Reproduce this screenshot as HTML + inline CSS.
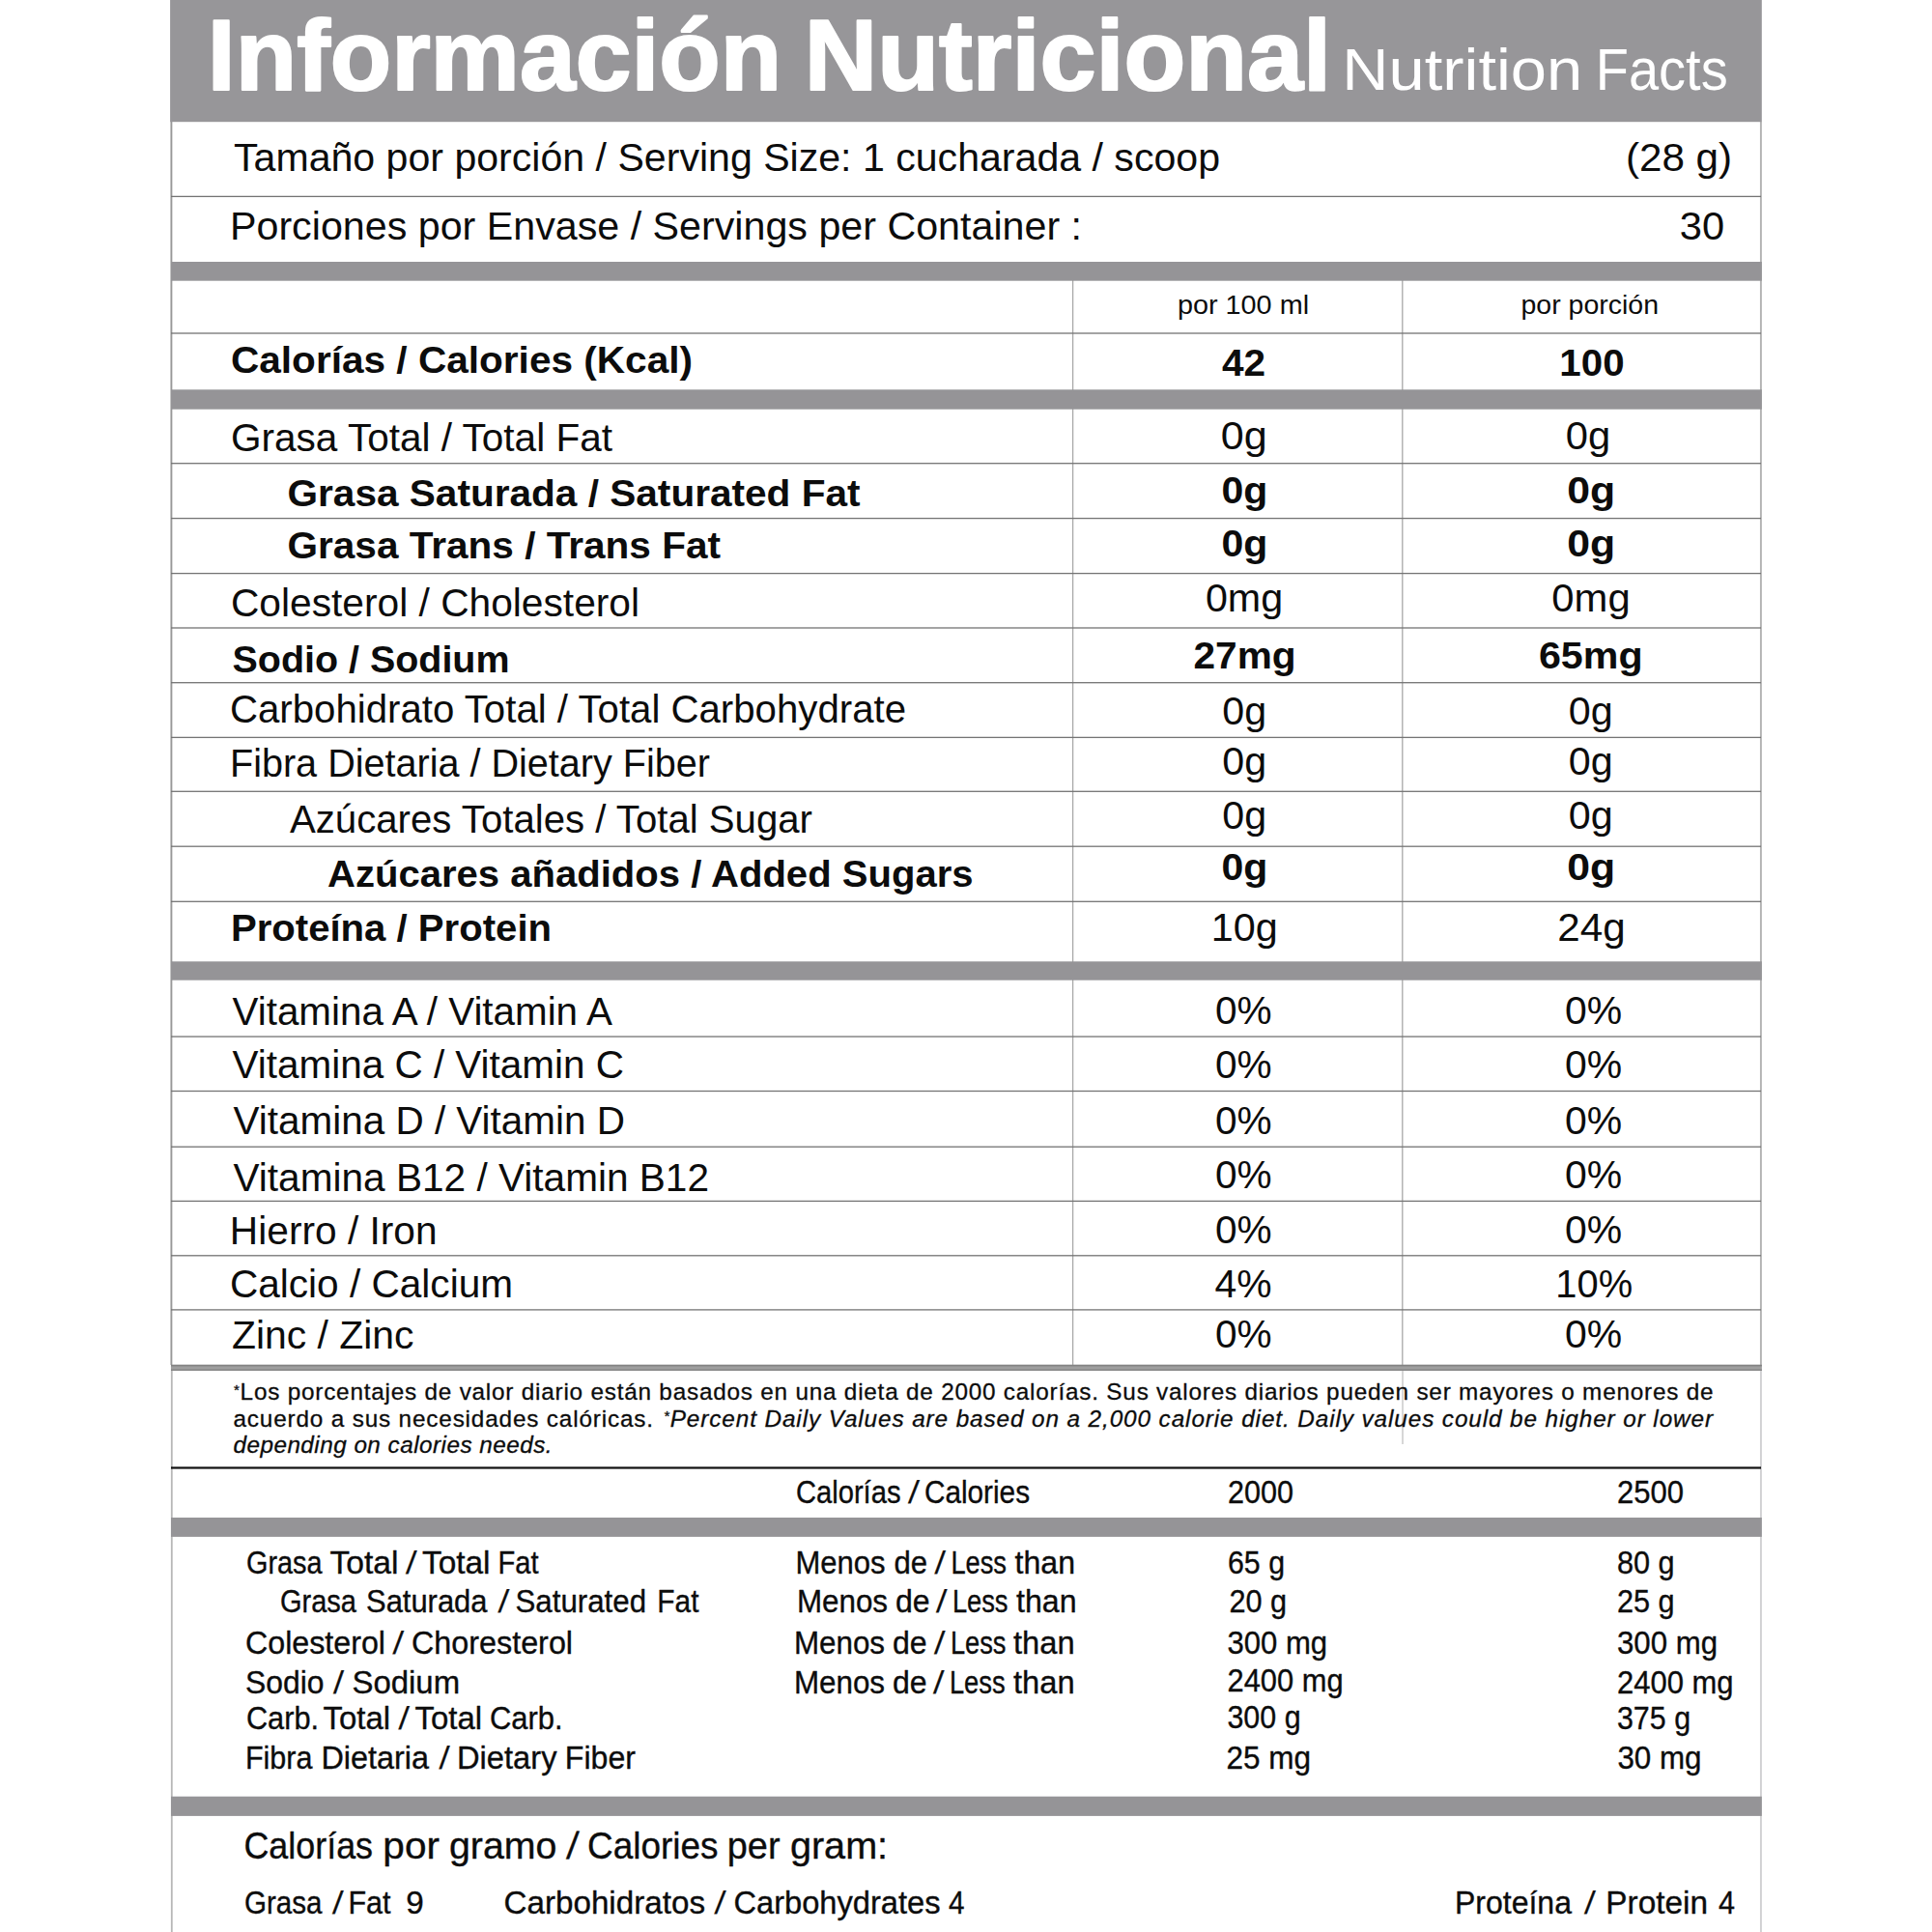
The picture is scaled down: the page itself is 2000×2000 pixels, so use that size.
<!DOCTYPE html>
<html lang="es">
<head>
<meta charset="utf-8">
<title>Información Nutricional / Nutrition Facts</title>
<style>
html,body{margin:0;padding:0;background:#fff;}
body{width:2000px;height:2000px;overflow:hidden;}
svg{display:block;}
text{font-family:"Liberation Sans",sans-serif;}
</style>
</head>
<body>
<svg width="2000" height="2000" viewBox="0 0 2000 2000">
<rect x="0" y="0" width="2000" height="2000" fill="#fff"/>
<g shape-rendering="auto">
<rect x="176.45" y="126.00" width="1.90" height="1287.00" fill="#989898"/>
<rect x="176.90" y="1413.00" width="1.80" height="587.00" fill="#b8b8b8"/>
<rect x="1821.95" y="126.00" width="1.90" height="1287.00" fill="#b2b2b2"/>
<rect x="1821.95" y="1413.00" width="1.90" height="587.00" fill="#d0d0d2"/>
<rect x="1109.95" y="290.00" width="1.30" height="1123.00" fill="#a8a8a8"/>
<rect x="1451.15" y="290.00" width="1.30" height="1123.00" fill="#a8a8a8"/>
<rect x="1451.40" y="1419.00" width="1.20" height="76.00" fill="#bdbdbd"/>
<rect x="176.10" y="0.00" width="1647.70" height="126.20" fill="#979699"/>
<rect x="177.00" y="202.75" width="1646.00" height="1.30" fill="#747474"/>
<rect x="177.00" y="271.00" width="1646.80" height="19.70" fill="#959497"/>
<rect x="177.00" y="344.35" width="1646.00" height="1.30" fill="#747474"/>
<rect x="177.00" y="403.30" width="1646.80" height="20.40" fill="#959497"/>
<rect x="177.00" y="479.05" width="1646.00" height="1.30" fill="#747474"/>
<rect x="177.00" y="535.95" width="1646.00" height="1.30" fill="#747474"/>
<rect x="177.00" y="592.95" width="1646.00" height="1.30" fill="#747474"/>
<rect x="177.00" y="649.35" width="1646.00" height="1.30" fill="#747474"/>
<rect x="177.00" y="706.05" width="1646.00" height="1.30" fill="#747474"/>
<rect x="177.00" y="762.75" width="1646.00" height="1.30" fill="#747474"/>
<rect x="177.00" y="818.65" width="1646.00" height="1.30" fill="#747474"/>
<rect x="177.00" y="875.55" width="1646.00" height="1.30" fill="#747474"/>
<rect x="177.00" y="932.65" width="1646.00" height="1.30" fill="#747474"/>
<rect x="177.00" y="995.30" width="1646.80" height="19.40" fill="#959497"/>
<rect x="177.00" y="1072.45" width="1646.00" height="1.30" fill="#747474"/>
<rect x="177.00" y="1128.85" width="1646.00" height="1.30" fill="#747474"/>
<rect x="177.00" y="1186.55" width="1646.00" height="1.30" fill="#747474"/>
<rect x="177.00" y="1242.75" width="1646.00" height="1.30" fill="#747474"/>
<rect x="177.00" y="1299.15" width="1646.00" height="1.30" fill="#747474"/>
<rect x="177.00" y="1355.25" width="1646.00" height="1.30" fill="#747474"/>
<rect x="177.00" y="1412.80" width="1646.80" height="6.20" fill="#9e9e9e"/>
<rect x="177.00" y="1412.80" width="1646.80" height="1.60" fill="#828282"/>
<rect x="177.00" y="1417.50" width="1646.80" height="1.50" fill="#868686"/>
<rect x="177.00" y="1518.40" width="1646.00" height="2.20" fill="#111"/>
<rect x="177.00" y="1571.00" width="1646.80" height="19.90" fill="#959497"/>
<rect x="177.00" y="1859.70" width="1646.80" height="20.20" fill="#959497"/>
</g>
<g>
<text x="214.87" y="93.0" font-size="104" textLength="594.23" lengthAdjust="spacingAndGlyphs" fill="#fff" stroke="#fff" stroke-width="2.2" stroke-linejoin="round" font-weight="bold">Información</text>
<text x="832.89" y="93.0" font-size="104" textLength="545.24" lengthAdjust="spacingAndGlyphs" fill="#fff" stroke="#fff" stroke-width="2.2" stroke-linejoin="round" font-weight="bold">Nutricional</text>
<text x="1389.31" y="93.0" font-size="62" textLength="248.87" lengthAdjust="spacingAndGlyphs" fill="#fff">Nutrition</text>
<text x="1651.76" y="93.0" font-size="62" textLength="136.88" lengthAdjust="spacingAndGlyphs" fill="#fff">Facts</text>
<text x="242.00" y="176.8" font-size="40.5" textLength="1021.01" lengthAdjust="spacingAndGlyphs" fill="#0c0c0c">Tamaño por porción / Serving Size: 1 cucharada / scoop</text>
<text x="1682.90" y="176.8" font-size="40.5" textLength="110.25" lengthAdjust="spacingAndGlyphs" fill="#0c0c0c">(28 g)</text>
<text x="237.97" y="247.6" font-size="40.5" textLength="882.07" lengthAdjust="spacingAndGlyphs" fill="#0c0c0c">Porciones por Envase / Servings per Container :</text>
<text x="1738.82" y="247.6" font-size="40.5" textLength="46.33" lengthAdjust="spacingAndGlyphs" fill="#0c0c0c">30</text>
<text x="1218.93" y="324.8" font-size="27.5" textLength="136.13" lengthAdjust="spacingAndGlyphs" fill="#0c0c0c">por 100 ml</text>
<text x="1574.47" y="324.8" font-size="27.5" textLength="142.58" lengthAdjust="spacingAndGlyphs" fill="#0c0c0c">por porción</text>
<text x="238.99" y="385.6" font-size="39.5" textLength="478.02" lengthAdjust="spacingAndGlyphs" fill="#0c0c0c" font-weight="bold">Calorías / Calories (Kcal)</text>
<text x="1264.98" y="388.7" font-size="38.5" textLength="45.11" lengthAdjust="spacingAndGlyphs" fill="#0c0c0c" font-weight="bold">42</text>
<text x="1614.33" y="388.7" font-size="38.5" textLength="67.28" lengthAdjust="spacingAndGlyphs" fill="#0c0c0c" font-weight="bold">100</text>
<text x="238.99" y="467.2" font-size="40.5" textLength="395.01" lengthAdjust="spacingAndGlyphs" fill="#0c0c0c">Grasa Total / Total Fat</text>
<text x="1263.82" y="465.1" font-size="40.5" textLength="47.98" lengthAdjust="spacingAndGlyphs" fill="#0c0c0c">0g</text>
<text x="1620.86" y="465.1" font-size="40.5" textLength="46.42" lengthAdjust="spacingAndGlyphs" fill="#0c0c0c">0g</text>
<text x="297.50" y="523.7" font-size="39.5" textLength="593.00" lengthAdjust="spacingAndGlyphs" fill="#0c0c0c" font-weight="bold">Grasa Saturada / Saturated Fat</text>
<text x="1264.40" y="521.1" font-size="39.5" textLength="47.87" lengthAdjust="spacingAndGlyphs" fill="#0c0c0c" font-weight="bold">0g</text>
<text x="1622.28" y="521.1" font-size="39.5" textLength="49.95" lengthAdjust="spacingAndGlyphs" fill="#0c0c0c" font-weight="bold">0g</text>
<text x="297.49" y="578.0" font-size="39.5" textLength="448.52" lengthAdjust="spacingAndGlyphs" fill="#0c0c0c" font-weight="bold">Grasa Trans / Trans Fat</text>
<text x="1264.40" y="575.5" font-size="39.5" textLength="47.87" lengthAdjust="spacingAndGlyphs" fill="#0c0c0c" font-weight="bold">0g</text>
<text x="1622.28" y="575.5" font-size="39.5" textLength="49.95" lengthAdjust="spacingAndGlyphs" fill="#0c0c0c" font-weight="bold">0g</text>
<text x="238.97" y="638.0" font-size="40.5" textLength="423.06" lengthAdjust="spacingAndGlyphs" fill="#0c0c0c">Colesterol / Cholesterol</text>
<text x="1247.92" y="632.8" font-size="40.5" textLength="80.24" lengthAdjust="spacingAndGlyphs" fill="#0c0c0c">0mg</text>
<text x="1606.38" y="632.8" font-size="40.5" textLength="81.30" lengthAdjust="spacingAndGlyphs" fill="#0c0c0c">0mg</text>
<text x="240.49" y="695.8" font-size="39.5" textLength="287.05" lengthAdjust="spacingAndGlyphs" fill="#0c0c0c" font-weight="bold">Sodio / Sodium</text>
<text x="1235.44" y="692.4" font-size="39.5" textLength="106.13" lengthAdjust="spacingAndGlyphs" fill="#0c0c0c" font-weight="bold">27mg</text>
<text x="1592.94" y="692.4" font-size="39.5" textLength="107.64" lengthAdjust="spacingAndGlyphs" fill="#0c0c0c" font-weight="bold">65mg</text>
<text x="237.99" y="748.4" font-size="40.5" textLength="700.03" lengthAdjust="spacingAndGlyphs" fill="#0c0c0c">Carbohidrato Total / Total Carbohydrate</text>
<text x="1265.39" y="749.7" font-size="40.5" textLength="45.87" lengthAdjust="spacingAndGlyphs" fill="#0c0c0c">0g</text>
<text x="1623.84" y="749.7" font-size="40.5" textLength="45.89" lengthAdjust="spacingAndGlyphs" fill="#0c0c0c">0g</text>
<text x="237.97" y="804.1" font-size="40.5" textLength="497.04" lengthAdjust="spacingAndGlyphs" fill="#0c0c0c">Fibra Dietaria / Dietary Fiber</text>
<text x="1265.39" y="801.9" font-size="40.5" textLength="45.87" lengthAdjust="spacingAndGlyphs" fill="#0c0c0c">0g</text>
<text x="1623.84" y="801.9" font-size="40.5" textLength="45.89" lengthAdjust="spacingAndGlyphs" fill="#0c0c0c">0g</text>
<text x="300.00" y="861.8" font-size="40.5" textLength="541.00" lengthAdjust="spacingAndGlyphs" fill="#0c0c0c">Azúcares Totales / Total Sugar</text>
<text x="1265.39" y="857.7" font-size="40.5" textLength="45.87" lengthAdjust="spacingAndGlyphs" fill="#0c0c0c">0g</text>
<text x="1623.84" y="857.7" font-size="40.5" textLength="45.89" lengthAdjust="spacingAndGlyphs" fill="#0c0c0c">0g</text>
<text x="339.00" y="917.8" font-size="39.5" textLength="668.52" lengthAdjust="spacingAndGlyphs" fill="#0c0c0c" font-weight="bold">Azúcares añadidos / Added Sugars</text>
<text x="1264.40" y="910.8" font-size="39.5" textLength="47.87" lengthAdjust="spacingAndGlyphs" fill="#0c0c0c" font-weight="bold">0g</text>
<text x="1622.28" y="910.8" font-size="39.5" textLength="49.95" lengthAdjust="spacingAndGlyphs" fill="#0c0c0c" font-weight="bold">0g</text>
<text x="238.94" y="974.2" font-size="39.5" textLength="332.10" lengthAdjust="spacingAndGlyphs" fill="#0c0c0c" font-weight="bold">Proteína / Protein</text>
<text x="1253.72" y="974.1" font-size="40.5" textLength="68.98" lengthAdjust="spacingAndGlyphs" fill="#0c0c0c">10g</text>
<text x="1612.35" y="974.1" font-size="40.5" textLength="70.34" lengthAdjust="spacingAndGlyphs" fill="#0c0c0c">24g</text>
<text x="240.50" y="1061.3" font-size="40.5" textLength="393.50" lengthAdjust="spacingAndGlyphs" fill="#0c0c0c">Vitamina A / Vitamin A</text>
<text x="1257.93" y="1060.0" font-size="40.5" textLength="58.65" lengthAdjust="spacingAndGlyphs" fill="#0c0c0c">0%</text>
<text x="1619.90" y="1060.0" font-size="40.5" textLength="59.20" lengthAdjust="spacingAndGlyphs" fill="#0c0c0c">0%</text>
<text x="240.50" y="1115.7" font-size="40.5" textLength="405.52" lengthAdjust="spacingAndGlyphs" fill="#0c0c0c">Vitamina C / Vitamin C</text>
<text x="1257.93" y="1116.4" font-size="40.5" textLength="58.65" lengthAdjust="spacingAndGlyphs" fill="#0c0c0c">0%</text>
<text x="1619.90" y="1116.4" font-size="40.5" textLength="59.20" lengthAdjust="spacingAndGlyphs" fill="#0c0c0c">0%</text>
<text x="241.50" y="1173.9" font-size="40.5" textLength="405.51" lengthAdjust="spacingAndGlyphs" fill="#0c0c0c">Vitamina D / Vitamin D</text>
<text x="1257.93" y="1173.9" font-size="40.5" textLength="58.65" lengthAdjust="spacingAndGlyphs" fill="#0c0c0c">0%</text>
<text x="1619.90" y="1173.9" font-size="40.5" textLength="59.20" lengthAdjust="spacingAndGlyphs" fill="#0c0c0c">0%</text>
<text x="241.50" y="1232.9" font-size="40.5" textLength="492.51" lengthAdjust="spacingAndGlyphs" fill="#0c0c0c">Vitamina B12 / Vitamin B12</text>
<text x="1257.93" y="1229.5" font-size="40.5" textLength="58.65" lengthAdjust="spacingAndGlyphs" fill="#0c0c0c">0%</text>
<text x="1619.90" y="1229.5" font-size="40.5" textLength="59.20" lengthAdjust="spacingAndGlyphs" fill="#0c0c0c">0%</text>
<text x="237.89" y="1288.3" font-size="40.5" textLength="214.70" lengthAdjust="spacingAndGlyphs" fill="#0c0c0c">Hierro / Iron</text>
<text x="1257.93" y="1286.5" font-size="40.5" textLength="58.65" lengthAdjust="spacingAndGlyphs" fill="#0c0c0c">0%</text>
<text x="1619.90" y="1286.5" font-size="40.5" textLength="59.20" lengthAdjust="spacingAndGlyphs" fill="#0c0c0c">0%</text>
<text x="237.96" y="1343.1" font-size="40.5" textLength="293.07" lengthAdjust="spacingAndGlyphs" fill="#0c0c0c">Calcio / Calcium</text>
<text x="1257.46" y="1343.4" font-size="40.5" textLength="59.08" lengthAdjust="spacingAndGlyphs" fill="#0c0c0c">4%</text>
<text x="1610.36" y="1343.4" font-size="40.5" textLength="79.77" lengthAdjust="spacingAndGlyphs" fill="#0c0c0c">10%</text>
<text x="239.98" y="1395.6" font-size="40.5" textLength="188.54" lengthAdjust="spacingAndGlyphs" fill="#0c0c0c">Zinc / Zinc</text>
<text x="1257.93" y="1394.9" font-size="40.5" textLength="58.65" lengthAdjust="spacingAndGlyphs" fill="#0c0c0c">0%</text>
<text x="1619.90" y="1394.9" font-size="40.5" textLength="59.20" lengthAdjust="spacingAndGlyphs" fill="#0c0c0c">0%</text>
<text x="242.00" y="1449.2" font-size="24.3" textLength="1531.50" lengthAdjust="spacing" fill="#0c0c0c" stroke="#0c0c0c" stroke-width="0.3" stroke-linejoin="round"><tspan font-size="15" dy="-5.5">*</tspan><tspan dy="5.5">Los porcentajes de valor diario están basados en una dieta de 2000 calorías. Sus valores diarios pueden ser mayores o menores de</tspan></text>
<text x="241.49" y="1476.7" font-size="24.3" textLength="434.51" lengthAdjust="spacing" fill="#0c0c0c" stroke="#0c0c0c" stroke-width="0.3" stroke-linejoin="round">acuerdo a sus necesidades calóricas.</text>
<text x="687.00" y="1476.7" font-size="24.3" textLength="1086.00" lengthAdjust="spacing" fill="#0c0c0c" stroke="#0c0c0c" stroke-width="0.3" stroke-linejoin="round" font-style="italic"><tspan font-size="15" dy="-5.5">*</tspan><tspan dy="5.5">Percent Daily Values are based on a 2,000 calorie diet. Daily values could be higher or lower</tspan></text>
<text x="241.49" y="1504.3" font-size="24.3" textLength="330.04" lengthAdjust="spacing" fill="#0c0c0c" stroke="#0c0c0c" stroke-width="0.3" stroke-linejoin="round" font-style="italic">depending on calories needs.</text>
<text x="823.97" y="1556.2" font-size="33" textLength="108.55" lengthAdjust="spacingAndGlyphs" fill="#0c0c0c" stroke="#0c0c0c" stroke-width="0.35" stroke-linejoin="round">Calorías</text>
<text transform="translate(940.00,1556.2) skewX(-6.78)" font-size="33" fill="#0c0c0c" stroke="#0c0c0c" stroke-width="0.35" stroke-linejoin="round">/</text>
<text x="956.95" y="1556.2" font-size="33" textLength="109.06" lengthAdjust="spacingAndGlyphs" fill="#0c0c0c" stroke="#0c0c0c" stroke-width="0.35" stroke-linejoin="round">Calories</text>
<text x="1270.96" y="1556.2" font-size="33" textLength="68.06" lengthAdjust="spacingAndGlyphs" fill="#0c0c0c" stroke="#0c0c0c" stroke-width="0.35" stroke-linejoin="round">2000</text>
<text x="1673.95" y="1556.2" font-size="33" textLength="69.08" lengthAdjust="spacingAndGlyphs" fill="#0c0c0c" stroke="#0c0c0c" stroke-width="0.35" stroke-linejoin="round">2500</text>
<text x="254.98" y="1628.7" font-size="33" textLength="78.51" lengthAdjust="spacingAndGlyphs" fill="#0c0c0c" stroke="#0c0c0c" stroke-width="0.35" stroke-linejoin="round">Grasa</text>
<text x="341.49" y="1628.7" font-size="33" textLength="71.09" lengthAdjust="spacingAndGlyphs" fill="#0c0c0c" stroke="#0c0c0c" stroke-width="0.35" stroke-linejoin="round">Total</text>
<text transform="translate(420.00,1628.7) skewX(-5.85)" font-size="33" fill="#0c0c0c" stroke="#0c0c0c" stroke-width="0.35" stroke-linejoin="round">/</text>
<text x="436.96" y="1628.7" font-size="33" textLength="70.60" lengthAdjust="spacingAndGlyphs" fill="#0c0c0c" stroke="#0c0c0c" stroke-width="0.35" stroke-linejoin="round">Total</text>
<text x="515.42" y="1628.7" font-size="33" textLength="42.07" lengthAdjust="spacingAndGlyphs" fill="#0c0c0c" stroke="#0c0c0c" stroke-width="0.35" stroke-linejoin="round">Fat</text>
<text x="823.45" y="1628.7" font-size="33" textLength="93.08" lengthAdjust="spacingAndGlyphs" fill="#0c0c0c" stroke="#0c0c0c" stroke-width="0.35" stroke-linejoin="round">Menos</text>
<text x="925.47" y="1628.7" font-size="33" textLength="34.62" lengthAdjust="spacingAndGlyphs" fill="#0c0c0c" stroke="#0c0c0c" stroke-width="0.35" stroke-linejoin="round">de</text>
<text transform="translate(967.50,1628.7) skewX(-5.38)" font-size="33" fill="#0c0c0c" stroke="#0c0c0c" stroke-width="0.35" stroke-linejoin="round">/</text>
<text x="984.40" y="1628.7" font-size="33" textLength="57.62" lengthAdjust="spacingAndGlyphs" fill="#0c0c0c" stroke="#0c0c0c" stroke-width="0.35" stroke-linejoin="round">Less</text>
<text x="1050.47" y="1628.7" font-size="33" textLength="62.57" lengthAdjust="spacingAndGlyphs" fill="#0c0c0c" stroke="#0c0c0c" stroke-width="0.35" stroke-linejoin="round">than</text>
<text x="1270.96" y="1628.7" font-size="33" textLength="59.12" lengthAdjust="spacingAndGlyphs" fill="#0c0c0c" stroke="#0c0c0c" stroke-width="0.35" stroke-linejoin="round">65 g</text>
<text x="1673.93" y="1628.7" font-size="33" textLength="59.66" lengthAdjust="spacingAndGlyphs" fill="#0c0c0c" stroke="#0c0c0c" stroke-width="0.35" stroke-linejoin="round">80 g</text>
<text x="289.97" y="1668.8" font-size="33" textLength="79.03" lengthAdjust="spacingAndGlyphs" fill="#0c0c0c" stroke="#0c0c0c" stroke-width="0.35" stroke-linejoin="round">Grasa</text>
<text x="379.00" y="1668.8" font-size="33" textLength="125.51" lengthAdjust="spacingAndGlyphs" fill="#0c0c0c" stroke="#0c0c0c" stroke-width="0.35" stroke-linejoin="round">Saturada</text>
<text transform="translate(515.50,1668.8) skewX(-6.31)" font-size="33" fill="#0c0c0c" stroke="#0c0c0c" stroke-width="0.35" stroke-linejoin="round">/</text>
<text x="533.48" y="1668.8" font-size="33" textLength="135.56" lengthAdjust="spacingAndGlyphs" fill="#0c0c0c" stroke="#0c0c0c" stroke-width="0.35" stroke-linejoin="round">Saturated</text>
<text x="680.36" y="1668.8" font-size="33" textLength="43.12" lengthAdjust="spacingAndGlyphs" fill="#0c0c0c" stroke="#0c0c0c" stroke-width="0.35" stroke-linejoin="round">Fat</text>
<text x="824.93" y="1668.8" font-size="33" textLength="94.11" lengthAdjust="spacingAndGlyphs" fill="#0c0c0c" stroke="#0c0c0c" stroke-width="0.35" stroke-linejoin="round">Menos</text>
<text x="926.93" y="1668.8" font-size="33" textLength="35.67" lengthAdjust="spacingAndGlyphs" fill="#0c0c0c" stroke="#0c0c0c" stroke-width="0.35" stroke-linejoin="round">de</text>
<text transform="translate(969.00,1668.8) skewX(-5.38)" font-size="33" fill="#0c0c0c" stroke="#0c0c0c" stroke-width="0.35" stroke-linejoin="round">/</text>
<text x="985.89" y="1668.8" font-size="33" textLength="57.64" lengthAdjust="spacingAndGlyphs" fill="#0c0c0c" stroke="#0c0c0c" stroke-width="0.35" stroke-linejoin="round">Less</text>
<text x="1052.01" y="1668.8" font-size="33" textLength="62.55" lengthAdjust="spacingAndGlyphs" fill="#0c0c0c" stroke="#0c0c0c" stroke-width="0.35" stroke-linejoin="round">than</text>
<text x="1272.43" y="1668.8" font-size="33" textLength="59.71" lengthAdjust="spacingAndGlyphs" fill="#0c0c0c" stroke="#0c0c0c" stroke-width="0.35" stroke-linejoin="round">20 g</text>
<text x="1673.93" y="1668.8" font-size="33" textLength="59.66" lengthAdjust="spacingAndGlyphs" fill="#0c0c0c" stroke="#0c0c0c" stroke-width="0.35" stroke-linejoin="round">25 g</text>
<text x="253.97" y="1712.0" font-size="33" textLength="145.07" lengthAdjust="spacingAndGlyphs" fill="#0c0c0c" stroke="#0c0c0c" stroke-width="0.35" stroke-linejoin="round">Colesterol</text>
<text transform="translate(406.50,1712.0) skewX(-5.85)" font-size="33" fill="#0c0c0c" stroke="#0c0c0c" stroke-width="0.35" stroke-linejoin="round">/</text>
<text x="425.97" y="1712.0" font-size="33" textLength="167.07" lengthAdjust="spacingAndGlyphs" fill="#0c0c0c" stroke="#0c0c0c" stroke-width="0.35" stroke-linejoin="round">Choresterol</text>
<text x="821.89" y="1712.0" font-size="33" textLength="94.15" lengthAdjust="spacingAndGlyphs" fill="#0c0c0c" stroke="#0c0c0c" stroke-width="0.35" stroke-linejoin="round">Menos</text>
<text x="923.93" y="1712.0" font-size="33" textLength="35.70" lengthAdjust="spacingAndGlyphs" fill="#0c0c0c" stroke="#0c0c0c" stroke-width="0.35" stroke-linejoin="round">de</text>
<text transform="translate(967.00,1712.0) skewX(-5.38)" font-size="33" fill="#0c0c0c" stroke="#0c0c0c" stroke-width="0.35" stroke-linejoin="round">/</text>
<text x="983.90" y="1712.0" font-size="33" textLength="57.61" lengthAdjust="spacingAndGlyphs" fill="#0c0c0c" stroke="#0c0c0c" stroke-width="0.35" stroke-linejoin="round">Less</text>
<text x="1048.99" y="1712.0" font-size="33" textLength="63.59" lengthAdjust="spacingAndGlyphs" fill="#0c0c0c" stroke="#0c0c0c" stroke-width="0.35" stroke-linejoin="round">than</text>
<text x="1270.48" y="1712.0" font-size="33" textLength="103.59" lengthAdjust="spacingAndGlyphs" fill="#0c0c0c" stroke="#0c0c0c" stroke-width="0.35" stroke-linejoin="round">300 mg</text>
<text x="1673.96" y="1712.0" font-size="33" textLength="104.10" lengthAdjust="spacingAndGlyphs" fill="#0c0c0c" stroke="#0c0c0c" stroke-width="0.35" stroke-linejoin="round">300 mg</text>
<text x="253.97" y="1752.9" font-size="33" textLength="81.56" lengthAdjust="spacingAndGlyphs" fill="#0c0c0c" stroke="#0c0c0c" stroke-width="0.35" stroke-linejoin="round">Sodio</text>
<text transform="translate(345.00,1752.9) skewX(-4.44)" font-size="33" fill="#0c0c0c" stroke="#0c0c0c" stroke-width="0.35" stroke-linejoin="round">/</text>
<text x="364.44" y="1752.9" font-size="33" textLength="111.62" lengthAdjust="spacingAndGlyphs" fill="#0c0c0c" stroke="#0c0c0c" stroke-width="0.35" stroke-linejoin="round">Sodium</text>
<text x="821.92" y="1752.9" font-size="33" textLength="94.11" lengthAdjust="spacingAndGlyphs" fill="#0c0c0c" stroke="#0c0c0c" stroke-width="0.35" stroke-linejoin="round">Menos</text>
<text x="923.92" y="1752.9" font-size="33" textLength="35.69" lengthAdjust="spacingAndGlyphs" fill="#0c0c0c" stroke="#0c0c0c" stroke-width="0.35" stroke-linejoin="round">de</text>
<text transform="translate(966.00,1752.9) skewX(-5.38)" font-size="33" fill="#0c0c0c" stroke="#0c0c0c" stroke-width="0.35" stroke-linejoin="round">/</text>
<text x="982.89" y="1752.9" font-size="33" textLength="57.66" lengthAdjust="spacingAndGlyphs" fill="#0c0c0c" stroke="#0c0c0c" stroke-width="0.35" stroke-linejoin="round">Less</text>
<text x="1048.97" y="1752.9" font-size="33" textLength="63.59" lengthAdjust="spacingAndGlyphs" fill="#0c0c0c" stroke="#0c0c0c" stroke-width="0.35" stroke-linejoin="round">than</text>
<text x="1270.49" y="1750.6" font-size="33" textLength="120.06" lengthAdjust="spacingAndGlyphs" fill="#0c0c0c" stroke="#0c0c0c" stroke-width="0.35" stroke-linejoin="round">2400 mg</text>
<text x="1673.97" y="1752.9" font-size="33" textLength="120.56" lengthAdjust="spacingAndGlyphs" fill="#0c0c0c" stroke="#0c0c0c" stroke-width="0.35" stroke-linejoin="round">2400 mg</text>
<text x="254.92" y="1789.9" font-size="33" textLength="75.19" lengthAdjust="spacingAndGlyphs" fill="#0c0c0c" stroke="#0c0c0c" stroke-width="0.35" stroke-linejoin="round">Carb.</text>
<text x="334.50" y="1789.9" font-size="33" textLength="69.58" lengthAdjust="spacingAndGlyphs" fill="#0c0c0c" stroke="#0c0c0c" stroke-width="0.35" stroke-linejoin="round">Total</text>
<text transform="translate(412.50,1789.9) skewX(-5.38)" font-size="33" fill="#0c0c0c" stroke="#0c0c0c" stroke-width="0.35" stroke-linejoin="round">/</text>
<text x="429.49" y="1789.9" font-size="33" textLength="69.57" lengthAdjust="spacingAndGlyphs" fill="#0c0c0c" stroke="#0c0c0c" stroke-width="0.35" stroke-linejoin="round">Total</text>
<text x="506.92" y="1789.9" font-size="33" textLength="75.72" lengthAdjust="spacingAndGlyphs" fill="#0c0c0c" stroke="#0c0c0c" stroke-width="0.35" stroke-linejoin="round">Carb.</text>
<text x="1270.46" y="1789.4" font-size="33" textLength="76.10" lengthAdjust="spacingAndGlyphs" fill="#0c0c0c" stroke="#0c0c0c" stroke-width="0.35" stroke-linejoin="round">300 g</text>
<text x="1673.96" y="1789.9" font-size="33" textLength="76.14" lengthAdjust="spacingAndGlyphs" fill="#0c0c0c" stroke="#0c0c0c" stroke-width="0.35" stroke-linejoin="round">375 g</text>
<text x="253.93" y="1830.6" font-size="33" textLength="69.56" lengthAdjust="spacingAndGlyphs" fill="#0c0c0c" stroke="#0c0c0c" stroke-width="0.35" stroke-linejoin="round">Fibra</text>
<text x="332.44" y="1830.6" font-size="33" textLength="111.56" lengthAdjust="spacingAndGlyphs" fill="#0c0c0c" stroke="#0c0c0c" stroke-width="0.35" stroke-linejoin="round">Dietaria</text>
<text transform="translate(454.50,1830.6) skewX(-4.67)" font-size="33" fill="#0c0c0c" stroke="#0c0c0c" stroke-width="0.35" stroke-linejoin="round">/</text>
<text x="472.94" y="1830.6" font-size="33" textLength="103.56" lengthAdjust="spacingAndGlyphs" fill="#0c0c0c" stroke="#0c0c0c" stroke-width="0.35" stroke-linejoin="round">Dietary</text>
<text x="584.87" y="1830.6" font-size="33" textLength="73.16" lengthAdjust="spacingAndGlyphs" fill="#0c0c0c" stroke="#0c0c0c" stroke-width="0.35" stroke-linejoin="round">Fiber</text>
<text x="1269.46" y="1830.6" font-size="33" textLength="87.61" lengthAdjust="spacingAndGlyphs" fill="#0c0c0c" stroke="#0c0c0c" stroke-width="0.35" stroke-linejoin="round">25 mg</text>
<text x="1674.44" y="1830.6" font-size="33" textLength="87.11" lengthAdjust="spacingAndGlyphs" fill="#0c0c0c" stroke="#0c0c0c" stroke-width="0.35" stroke-linejoin="round">30 mg</text>
<text x="252.46" y="1924.4" font-size="39" textLength="133.59" lengthAdjust="spacingAndGlyphs" fill="#0c0c0c" stroke="#0c0c0c" stroke-width="0.35" stroke-linejoin="round">Calorías</text>
<text x="396.38" y="1924.4" font-size="39" textLength="58.62" lengthAdjust="spacingAndGlyphs" fill="#0c0c0c" stroke="#0c0c0c" stroke-width="0.35" stroke-linejoin="round">por</text>
<text x="464.95" y="1924.4" font-size="39" textLength="111.57" lengthAdjust="spacingAndGlyphs" fill="#0c0c0c" stroke="#0c0c0c" stroke-width="0.35" stroke-linejoin="round">gramo</text>
<text transform="translate(586.00,1924.4) skewX(-6.01)" font-size="39" fill="#0c0c0c" stroke="#0c0c0c" stroke-width="0.35" stroke-linejoin="round">/</text>
<text x="607.98" y="1924.4" font-size="39" textLength="135.53" lengthAdjust="spacingAndGlyphs" fill="#0c0c0c" stroke="#0c0c0c" stroke-width="0.35" stroke-linejoin="round">Calories</text>
<text x="752.81" y="1924.4" font-size="39" textLength="54.75" lengthAdjust="spacingAndGlyphs" fill="#0c0c0c" stroke="#0c0c0c" stroke-width="0.35" stroke-linejoin="round">per</text>
<text x="817.91" y="1924.4" font-size="39" textLength="101.22" lengthAdjust="spacingAndGlyphs" fill="#0c0c0c" stroke="#0c0c0c" stroke-width="0.35" stroke-linejoin="round">gram:</text>
<text x="252.98" y="1981.0" font-size="33" textLength="80.52" lengthAdjust="spacingAndGlyphs" fill="#0c0c0c" stroke="#0c0c0c" stroke-width="0.35" stroke-linejoin="round">Grasa</text>
<text transform="translate(344.00,1981.0) skewX(-5.85)" font-size="33" fill="#0c0c0c" stroke="#0c0c0c" stroke-width="0.35" stroke-linejoin="round">/</text>
<text x="360.38" y="1981.0" font-size="33" textLength="44.10" lengthAdjust="spacingAndGlyphs" fill="#0c0c0c" stroke="#0c0c0c" stroke-width="0.35" stroke-linejoin="round">Fat</text>
<text x="420.23" y="1981.0" font-size="33" textLength="18.50" lengthAdjust="spacingAndGlyphs" fill="#0c0c0c" stroke="#0c0c0c" stroke-width="0.35" stroke-linejoin="round">9</text>
<text x="521.49" y="1981.0" font-size="33" textLength="208.52" lengthAdjust="spacingAndGlyphs" fill="#0c0c0c" stroke="#0c0c0c" stroke-width="0.35" stroke-linejoin="round">Carbohidratos</text>
<text transform="translate(739.50,1981.0) skewX(-7.01)" font-size="33" fill="#0c0c0c" stroke="#0c0c0c" stroke-width="0.35" stroke-linejoin="round">/</text>
<text x="759.48" y="1981.0" font-size="33" textLength="214.03" lengthAdjust="spacingAndGlyphs" fill="#0c0c0c" stroke="#0c0c0c" stroke-width="0.35" stroke-linejoin="round">Carbohydrates</text>
<text x="982.00" y="1981.0" font-size="33" textLength="16.50" lengthAdjust="spacingAndGlyphs" fill="#0c0c0c" stroke="#0c0c0c" stroke-width="0.35" stroke-linejoin="round">4</text>
<text x="1505.98" y="1981.0" font-size="33" textLength="121.01" lengthAdjust="spacingAndGlyphs" fill="#0c0c0c" stroke="#0c0c0c" stroke-width="0.35" stroke-linejoin="round">Proteína</text>
<text transform="translate(1640.00,1981.0) skewX(-6.31)" font-size="33" fill="#0c0c0c" stroke="#0c0c0c" stroke-width="0.35" stroke-linejoin="round">/</text>
<text x="1662.39" y="1981.0" font-size="33" textLength="105.69" lengthAdjust="spacingAndGlyphs" fill="#0c0c0c" stroke="#0c0c0c" stroke-width="0.35" stroke-linejoin="round">Protein</text>
<text x="1779.00" y="1981.0" font-size="33" textLength="17.03" lengthAdjust="spacingAndGlyphs" fill="#0c0c0c" stroke="#0c0c0c" stroke-width="0.35" stroke-linejoin="round">4</text>
</g>
</svg>
</body>
</html>
